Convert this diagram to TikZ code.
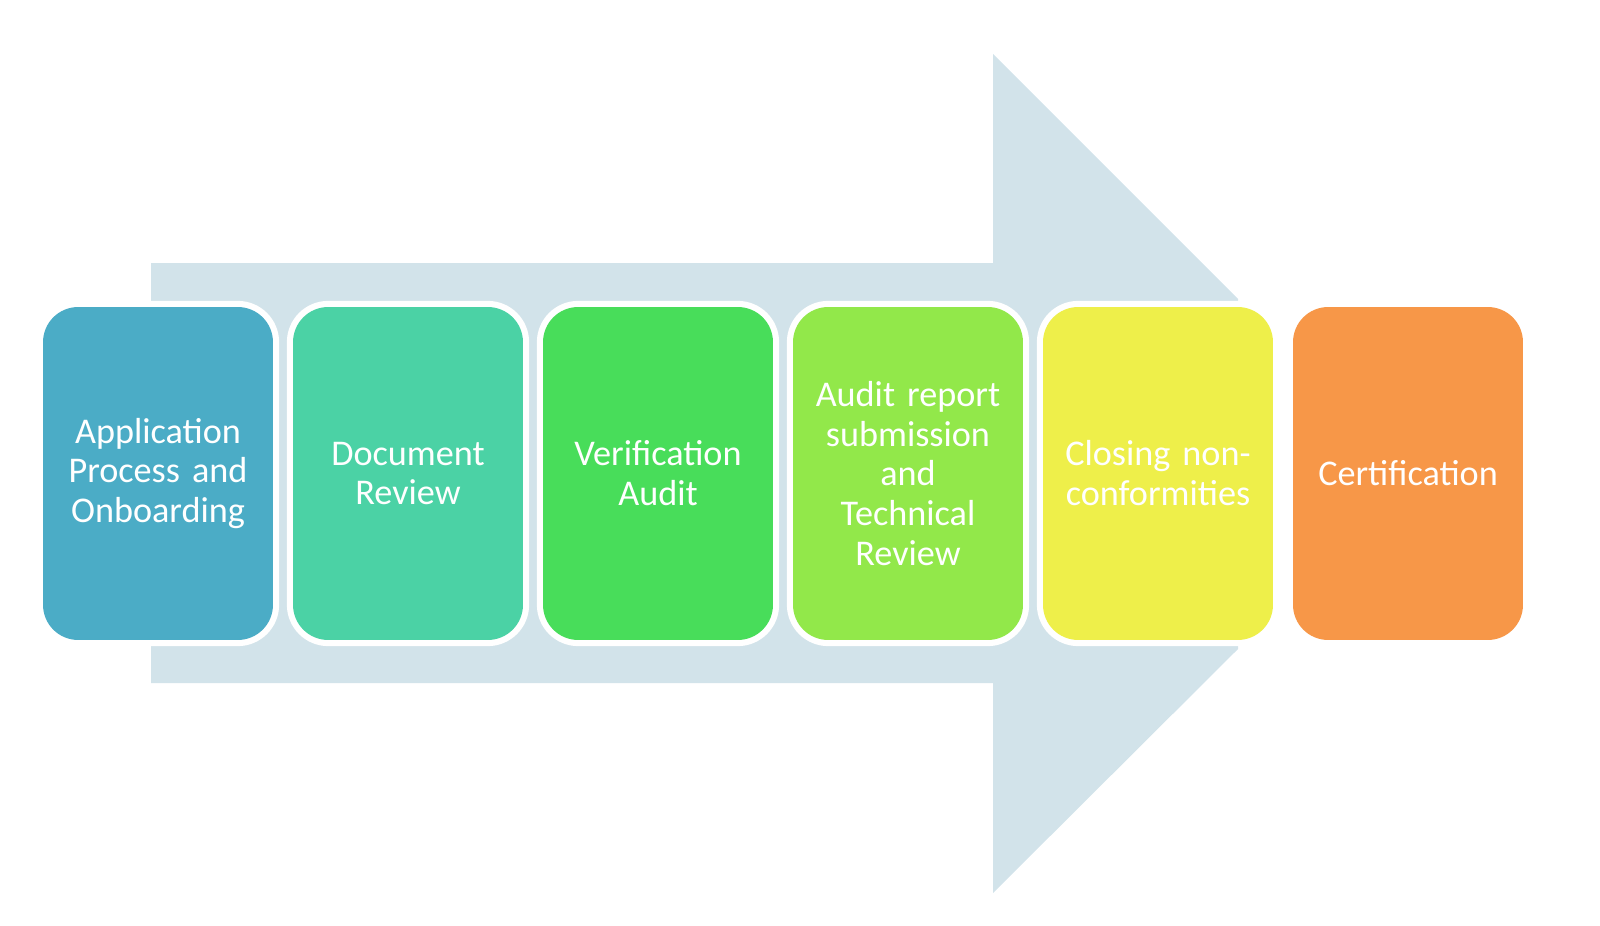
\documentclass[tikz,border=0pt]{standalone}
\usepackage{fontspec}
\setmainfont{Carlito}
\definecolor{arrowc}{RGB}{210,227,234}
\definecolor{cA}{RGB}{75,172,198}
\definecolor{cB}{RGB}{75,210,165}
\definecolor{cC}{RGB}{72,221,90}
\definecolor{cD}{RGB}{146,232,74}
\definecolor{cE}{RGB}{238,239,74}
\definecolor{cF}{RGB}{247,151,72}
\tikzset{
  stepbox/.style={rectangle, rounded corners=20pt, minimum width=4.6cm, minimum height=6.66cm,
    inner sep=0pt, text width=4.5cm, align=center, text=white,
    font=\fontsize{20.6}{22.7}\selectfont,
    preaction={draw=white, line width=7pt}},
}
\begin{document}
\begin{tikzpicture}[x=0.02cm,y=-0.02cm]
\useasboundingbox (0,0) rectangle (1600,926);
\fill[arrowc] (151,263) -- (993,263) -- (993,54) -- (1238,299) -- (1238,649)
  -- (993,893) -- (993,683) -- (151,683) -- cycle;
\node[stepbox, fill=cA] (s1) at (158,473.5) {Application\\Process and\\Onboarding};
\node[stepbox, fill=cB] (s2) at (408,473.5) {Document\\Review};
\node[stepbox, fill=cC] (s3) at (658,473.5) {Verification\\Audit};
\node[stepbox, fill=cD] (s4) at (908,473.5) {Audit report\\submission\\and\\Technical\\Review};
\node[stepbox, fill=cE] (s5) at (1158,473.5) {Closing non-\\conformities};
\node[stepbox, fill=cF] (s6) at (1408,473.5) {Certification};
\end{tikzpicture}
\end{document}
